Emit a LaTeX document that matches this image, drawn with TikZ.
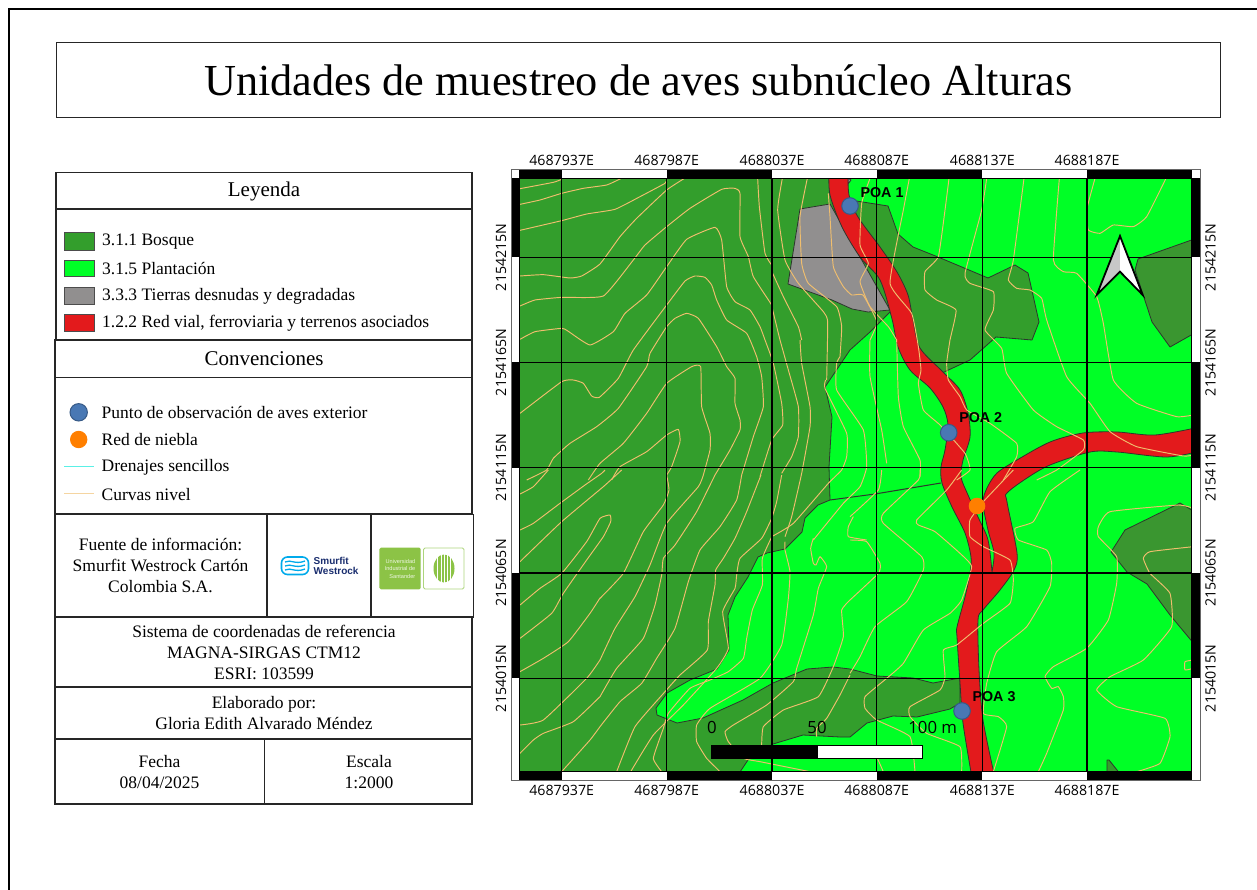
\documentclass[tikz,border=0pt]{standalone}
\usepackage{fontspec}
\setmainfont{Liberation Serif}
\newfontfamily\mapfont{Open Sans}
\newfontfamily\poafont{Liberation Sans}
\definecolor{forest}{RGB}{51,158,44}
\definecolor{forestb}{RGB}{58,150,48}
\definecolor{plant}{RGB}{0,255,38}
\definecolor{bare}{RGB}{145,143,143}
\definecolor{road}{RGB}{227,26,28}
\definecolor{curve}{RGB}{240,190,110}
\definecolor{drain}{RGB}{90,240,230}
\definecolor{poablue}{RGB}{73,120,180}
\definecolor{net}{RGB}{255,127,0}
\definecolor{edge}{RGB}{45,55,45}
\definecolor{smblue}{RGB}{0,170,235}
\definecolor{smnavy}{RGB}{25,45,110}
\definecolor{uisg}{RGB}{140,195,70}
\newcommand{\fs}[1]{\fontsize{#1}{20}\selectfont}
\tikzset{
  cell/.style={draw=black!85,line width=1.1pt},
  txt/.style={inner sep=0pt,align=center,font=\fs{17.5}},
  ltxt/.style={inner sep=0pt,anchor=west,font=\fs{17.5}},
  swatch/.style={draw=black!70,line width=0.9pt},
  land/.style={draw=edge,line width=0.8pt,line join=round},
  ctr/.style={draw=curve,line width=0.95pt,line join=round},
  gridl/.style={draw=black,line width=1.15pt},
  xlab/.style={inner sep=0pt,font=\mapfont\fs{14.2}},
  ylab/.style={inner sep=0pt,rotate=90,font=\mapfont\fs{14.2}},
  barlab/.style={inner sep=0pt,font=\mapfont\fs{16.8}},
  poa/.style={inner sep=0pt,font=\poafont\bfseries\fs{14.3}},
  pt/.style={draw=poablue!75!black,fill=poablue,line width=1pt},
  tileA/.style={shift={(490,150)},x=0.33333pt,y=-0.33333pt},
  tileB/.style={shift={(490,470)},x=0.33333pt,y=-0.33333pt},
  tileC/.style={shift={(850,150)},x=0.33333pt,y=-0.33333pt},
  tileD/.style={shift={(850,470)},x=0.33333pt,y=-0.33333pt},
  tileE/.style={shift={(600,475)},x=0.33333pt,y=-0.33333pt},
  tileF/.style={shift={(760,340)},x=0.33333pt,y=-0.33333pt},
}
\newcommand{\Z}[1]{\draw[ctr] plot[smooth,tension=0.25] coordinates {#1};}
\begin{document}
\begin{tikzpicture}[x=1pt,y=-1pt]
\useasboundingbox (0,0) rectangle (1257,890);
\fill[white] (0,0) rectangle (1257,890);
% sheet border
\draw[black,line width=1.8pt] (9,890) -- (9,9) -- (1257,9);
% title
\draw[cell,line width=0.8pt] (56,42) rectangle (1220,117);
\node[inner sep=0pt,font=\fs{44.3}] (title) at (638.5,80) {Unidades de muestreo de aves subnúcleo Alturas};
% table
\draw[cell] (56,172.7) rectangle (472,209);
\draw[cell] (56,209) rectangle (472,340);
\draw[cell] (55,340) rectangle (472,377.3);
\draw[cell] (55,377.3) rectangle (472,513.5);
\draw[cell] (55,514.5) rectangle (266.7,617);
\draw[cell] (267.5,514.5) rectangle (371,617);
\draw[cell] (371.5,514.5) rectangle (473.3,617);
\draw[cell] (55,617.5) rectangle (472,686.7);
\draw[cell] (55,687) rectangle (472,738.3);
\draw[cell] (55,739) rectangle (264.3,804);
\draw[cell] (264.8,739) rectangle (472,804);
\node[txt,font=\fs{21}] (ley) at (264,191) {Leyenda};
\node[txt,font=\fs{21}] (con) at (264,359) {Convenciones};
\draw[swatch,fill=forest] (64,232.3) rectangle (94,250);
\draw[swatch,fill=plant] (64,260) rectangle (94,276.7);
\draw[swatch,fill=bare] (64,287.3) rectangle (94,304);
\draw[swatch,fill=road] (64,314.7) rectangle (94,331.7);
\node[ltxt] (l1) at (102,241.5) {3.1.1 Bosque};
\node[ltxt] (l2) at (102,268.7) {3.1.5 Plantación};
\node[ltxt] (l3) at (102,296) {3.3.3 Tierras desnudas y degradadas};
\node[ltxt] (l4) at (102,323.3) {1.2.2 Red vial, ferroviaria y terrenos asociados};
\draw[pt] (78.7,412.3) circle (8.7);
\fill[net] (78.7,439.5) circle (8.7);
\draw[drain,line width=1pt] (64,466.3) -- (94,466.3);
\draw[curve!65!white,line width=1.4pt] (64,493.5) -- (94,493.5);
\node[ltxt] (c1) at (101.5,412.3) {Punto de observación de aves exterior};
\node[ltxt] (c2) at (101.5,439.5) {Red de niebla};
\node[ltxt] (c3) at (101.5,467) {Drenajes sencillos};
\node[ltxt] (c4) at (101.5,494.5) {Curvas nivel};
\node[txt] (src) at (160.5,565.5) {Fuente de información:\\[1pt]Smurfit Westrock Cartón\\[1pt]Colombia S.A.};
\node[txt] (crs) at (264,652) {Sistema de coordenadas de referencia\\[1pt]MAGNA-SIRGAS CTM12\\[1pt]ESRI: 103599};
\node[txt] (auth) at (264,713) {Elaborado por:\\[1pt]Gloria Edith Alvarado Méndez};
\node[txt] (fec) at (159.5,772.5) {Fecha\\[1pt]08/04/2025};
\node[txt] (esc) at (369,772.5) {Escala\\[1pt]1:2000};
% Smurfit logo
\draw[smblue,line width=1.6pt,rounded corners=6pt] (281.5,557) rectangle (308.5,574.5);
\begin{scope}[smblue,line width=1.3pt]
\draw (285,562) .. controls (291,559) and (295,565) .. (305,561);
\draw (285,566) .. controls (291,563) and (295,569) .. (305,565);
\draw (285,570) .. controls (291,567) and (295,573) .. (305,569);
\end{scope}
\node[inner sep=0pt,anchor=west,text=smnavy,font=\poafont\bfseries\fs{10}] (sm1) at (313.5,561.3) {Smurfit};
\node[inner sep=0pt,anchor=west,text=smnavy,font=\poafont\bfseries\fs{10}] (sm2) at (313.5,570.8) {Westrock};
% UIS logo
\fill[uisg,rounded corners=1.5pt] (379.3,547.7) rectangle (420.7,589.3);
\node[inner sep=0pt,text=white!85!uisg,align=right,font=\poafont\fontsize{5.6}{7.5}\selectfont] (ui1) at (400,568.5) {Universidad\\Industrial de\\Santander};
\draw[uisg!70!white,line width=0.9pt,rounded corners=1.5pt] (423.5,548) rectangle (464,589);
\fill[uisg] (444,568.5) ellipse (10.5 and 14);
\foreach \q in {437.7,441,444.2,447.4,450.5}{\draw[white,line width=1pt] (\q,553) -- (\q,584);}
% map
\begin{scope}
\clip (519.3,178.3) rectangle (1191.7,771.3);
\fill[plant] (519,178) rectangle (1192,772);
% main forest
\filldraw[fill=forest,land] (510,170) -- (840,170) -- (850,200) -- (888,206) -- (898,234) -- (913,247) -- (938,257) -- (988,278) -- (1015,265) -- (1028,273) -- (1039,322) -- (1032,340) -- (996,337) -- (970,360) -- (942,373) -- (900,330) -- (890,312) -- (870,332) -- (850,350) -- (825,387) -- (832,417) -- (829,467) -- (830,500) -- (818,505) -- (805,518) -- (802,532) -- (785,549) -- (767,553) -- (758,557) -- (748,577) -- (735,597) -- (728,615) -- (729,650) -- (717,669) -- (690,680) -- (667,693) -- (656,708) -- (657,715) -- (677,723) -- (703,718) -- (743,700) -- (773,683) -- (807,669) -- (833,667) -- (850,669) -- (877,676) -- (913,678) -- (933,683) -- (960,678) -- (960,703) -- (950,709) -- (917,717) -- (893,716) -- (867,723) -- (850,737) -- (840,737) -- (803,735) -- (773,744) -- (750,757) -- (738,775) -- (510,775) -- cycle;
\filldraw[fill=forestb,land] (1200,237) -- (1138,259) -- (1135,270) -- (1152,322) -- (1170,347) -- (1200,330) -- cycle;
\filldraw[fill=forestb,land] (1180,503) -- (1125,530) -- (1111,552) -- (1127,572) -- (1147,584) -- (1170,615) -- (1195,645) -- (1195,512) -- cycle;
\filldraw[fill=forest,land] (1107,760) -- (1109,760) -- (1121,775) -- (1107,775) -- cycle;
% bare soil
\filldraw[fill=bare,land] (800,209) -- (830,204) -- (860,257) -- (890,310) -- (868,312) -- (852,309) -- (832,300) -- (788,284) -- cycle;
\filldraw[fill=bare,land] (848,178) -- (851,180) -- (848,184) -- cycle;
% thin boundary line
\draw[land,line width=1pt] (830,500) -- (875,494) -- (941,483);
% road
\filldraw[fill=road,land] plot[smooth,tension=0.5] coordinates {(829,170) (830,195) (842,227) (860,257) (880,280) (892,319) (898,347) (910,370) (930,388) (943,407) (948,425) (945,450) (941,467) (942,483) (952,507) (965,533) (971,557) (970,573) (965,597) (957,627) (957,637) (960,683) (963,723) (972,778)}
 -- plot[smooth,tension=0.5] coordinates {(995,778) (983,720) (979,670) (978,620) (983,610) (1000,590) (1014,570) (1017,553) (1007,502) (1007,493) (1027,478) (1050,465) (1090,452) (1117,452) (1167,457) (1200,451)}
 -- plot[smooth,tension=0.5] coordinates {(1200,427) (1155,435) (1117,432) (1083,433) (1050,442) (1017,460) (997,473) (987,488) (983,503) (988,530) (994,553) (992,572)}
 -- plot[smooth,tension=0.5] coordinates {(992,572) (988,540) (978,517) (968,495) (961,477) (963,460) (970,437) (968,413) (960,390) (943,372) (920,348) (913,320) (908,295) (897,272) (880,247) (858,217) (849,195) (848,170)} -- cycle;
% contours, upper left tile
\begin{scope}[tileA]
\Z{(90,116)(190,97)(215,88)}
\Z{(90,163)(150,150)(215,130)(280,115)(350,105)(392,86)}
\Z{(90,241)(215,212)(290,192)(375,178)(450,140)(525,100)(530,88)}
\Z{(90,378)(160,374)(240,384)(275,378)(330,342)(390,260)(440,205)(530,120)(582,86)}
\Z{(90,468)(135,450)(215,442)(340,438)(430,330)(465,285)(530,230)(600,175)(695,118)(735,115)(750,130)(750,260)(775,320)(790,380)(845,465)(848,480)(870,570)}
\Z{(90,568)(135,545)(215,535)(232,542)(300,585)(370,545)(405,490)(470,435)(530,350)(590,268)(675,232)(695,270)(710,410)(735,455)(780,480)(810,530)(825,570)}
\Z{(90,790)(215,695)(250,690)(280,700)(305,738)(328,742)(385,685)(430,600)(530,465)(585,393)(615,378)(645,382)(665,405)(680,450)(710,510)(770,550)(800,620)(815,680)(820,770)(790,860)(755,975)}
\Z{(110,990)(170,960)(190,925)(240,880)(320,830)(385,775)(470,650)(480,610)(530,530)(555,505)(590,490)(625,505)(680,590)(710,650)(735,685)(735,760)(750,810)(750,840)(720,900)(675,975)}
\Z{(295,990)(330,940)(400,880)(470,790)(530,700)(605,650)(632,650)(635,770)(660,850)(660,900)(640,975)}
\Z{(365,990)(390,950)(470,905)(530,855)(565,838)(570,875)(545,950)(530,975)}
\Z{(803,85)(808,170)(825,310)(845,345)}
\Z{(877,85)(863,180)(885,330)(925,400)(1000,485)(1013,515)(1010,690)}
\Z{(952,85)(930,200)(935,340)(955,400)(1040,470)(1055,530)(1050,620)}
\Z{(848,370)(880,440)(925,530)(935,570)}
\Z{(1015,130)(1020,200)(1030,350)(1060,410)(1085,435)(1119,435)(1161,516)(1140,570)}
\end{scope}
% contours, lower left tile
\begin{scope}[tileB]
\Z{(90,72)(130,50)(175,0)}
\Z{(90,180)(130,160)(210,100)(285,45)(335,10)(345,0)}
\Z{(90,275)(215,155)(340,50)(395,0)}
\Z{(90,505)(185,430)(220,370)(290,270)(340,200)(362,155)(360,135)(330,145)(290,215)(215,310)(150,355)(90,405)}
\Z{(90,605)(160,565)(235,515)(300,430)(330,384)}
\Z{(90,765)(160,750)(290,625)(330,570)}
\Z{(90,850)(130,810)(160,790)(250,755)(330,680)}
\Z{(215,905)(300,810)(330,770)}
\Z{(815,825)(820,770)(880,720)(985,680)(1030,590)(1060,500)(1055,420)(1080,390)}
\end{scope}
% contours, middle lower tile
\begin{scope}[tileE]
\Z{(200,0)(207,45)(190,90)(130,170)(70,295)(0,370)}
\Z{(310,0)(295,35)(200,145)(150,270)(105,365)(45,460)(0,555)}
\Z{(345,0)(290,110)(225,210)(190,250)(185,300)(165,390)(130,490)(50,580)(0,665)}
\Z{(425,0)(410,75)(360,155)(300,225)(265,320)(225,460)(170,550)(125,625)(60,680)(0,755)}
\Z{(483,0)(440,110)(405,190)(370,250)(347,285)(345,330)(325,440)(322,525)(240,600)(195,650)(105,755)(50,890)}
\Z{(545,0)(530,80)(515,130)(485,190)(420,250)(410,300)(405,340)(368,410)(385,520)(350,580)(250,690)(160,780)(92,890)}
\Z{(185,890)(160,850)(190,760)(205,715)(270,640)(330,615)(385,590)(430,550)(440,490)(457,405)(487,330)(487,250)(515,186)}
\Z{(360,890)(320,850)(290,800)(290,750)(330,700)(480,610)(545,510)(565,370)(570,290)(555,225)(555,200)}
\Z{(630,890)(480,860)(430,850)(385,800)(375,770)(400,750)(500,690)(580,620)(590,580)(640,420)(655,340)(680,275)(660,245)(648,270)(640,265)(632,220)(640,190)}
\Z{(650,785)(650,760)(680,730)(720,660)(750,600)}
\end{scope}
% contours, centre tile
\begin{scope}[tileF]
\Z{(60,0)(85,90)(115,200)(115,290)(95,350)(65,400)}
\Z{(120,0)(125,70)(150,200)(150,260)(125,400)(95,530)(75,590)}
\Z{(15,0)(40,70)(65,190)(68,255)(35,300)(0,410)}
\Z{(197,120)(195,145)(260,280)(260,350)(245,390)(205,430)(100,550)(35,590)}
\Z{(240,50)(230,70)(230,150)(310,270)(320,380)(300,440)(250,490)(160,600)}
\Z{(330,0)(330,110)(365,270)(380,370)}
\Z{(410,0)(415,170)(430,260)(480,360)(480,410)}
\Z{(280,530)(265,560)(265,590)(320,600)}
\end{scope}
% contours, upper right tile
\begin{scope}[tileC]
\Z{(60,85)(35,160)(30,285)(55,340)(30,395)(60,470)(115,530)(140,570)}
\Z{(178,85)(160,180)(120,400)(185,490)(205,590)(213,660)(205,700)(220,780)(270,825)(345,910)(360,960)(320,990)}
\Z{(297,85)(285,180)(265,320)(225,365)(225,420)(260,450)(318,480)(300,570)(290,640)(295,690)(330,740)(350,780)(420,820)(500,880)(500,920)(460,990)}
\Z{(410,85)(395,180)(345,370)(360,400)(430,425)(430,480)(405,540)(455,595)(470,670)(550,780)(620,830)(700,870)(700,900)(620,960)(560,990)}
\Z{(522,85)(490,330)(475,390)(500,415)(540,420)(575,445)(590,510)(650,680)(720,760)(780,845)(860,890)(1000,918)(1030,915)}
\Z{(628,85)(610,330)(640,365)(680,370)(740,440)(760,520)(790,690)(860,760)(980,800)(1030,795)}
\Z{(735,85)(710,180)(715,240)(750,250)(790,225)(850,230)(890,200)(948,85)}
\end{scope}
% contours, lower right tile
\begin{scope}[tileD]
\Z{(690,0)(600,65)(550,155)(495,175)(505,210)(590,240)(605,280)(600,350)(530,470)(440,545)(410,640)(400,730)(445,740)(470,770)(430,905)}
\Z{(1030,230)(900,245)(880,265)(900,310)(960,370)(965,470)(880,570)(780,620)(740,660)(800,710)(945,745)(960,800)(930,880)(860,905)}
\Z{(1030,115)(985,105)(780,125)(745,170)(745,200)(800,260)(800,340)(775,450)(710,535)(610,590)(585,620)(605,655)(625,650)(640,680)(640,720)(590,850)(565,905)}
\Z{(490,0)(400,95)(360,150)(360,200)(400,230)(480,270)(490,330)(480,400)(400,460)(320,525)(280,540)(285,620)(270,660)(180,710)(180,740)(230,790)(330,830)(335,905)}
\Z{(335,0)(290,60)(200,150)(205,165)(255,185)(330,250)(365,290)(335,390)(300,430)(220,480)(160,580)(110,625)(45,680)(45,715)(80,750)(180,800)(195,905)}
\Z{(210,0)(205,30)(100,130)(100,160)(215,260)(220,300)(170,395)(75,470)(30,560)(0,610)}
\Z{(95,0)(85,60)(0,140)}
\Z{(0,210)(50,215)(90,280)(85,310)(0,390)}
\Z{(80,860)(100,905)}
\Z{(1030,570)(1005,575)(1005,600)(1030,595)}
\end{scope}
% grid
\foreach \q in {561.7,666.7,772,876.7,982.3,1087}{\draw[gridl] (\q,178) -- (\q,772);}
\foreach \q in {257.3,362.3,467.7,573,678.3}{\draw[gridl] (519,\q) -- (1192,\q);}
\end{scope}
% frame
\fill[white] (511,169.3) rectangle (1200,178.3);
\fill[white] (511,771.3) rectangle (1200,780);
\fill[white] (511,178.3) rectangle (519.3,771.3);
\fill[white] (1191.7,178.3) rectangle (1200,771.3);
\foreach \a/\b in {519.3/561.7,666.7/772,876.7/982.3,1087/1191.7}{
  \fill[black] (\a,169.3) rectangle (\b,178.3);
  \fill[black] (\a,771.3) rectangle (\b,780);
}
\foreach \a/\b in {178.3/257.3,362.3/467.7,573/678.3}{
  \fill[black] (511,\a) rectangle (519.3,\b);
  \fill[black] (1191.7,\a) rectangle (1200,\b);
}
\draw[black!60,line width=0.9pt] (511,169.3) rectangle (1200,780);
\draw[black,line width=1pt] (519.3,178.3) rectangle (1191.7,771.3);
% labels
\foreach \q/\t/\n in {561.7/4687937E/a,666.7/4687987E/b,772/4688037E/c,876.7/4688087E/d,982.3/4688137E/e,1087/4688187E/f}{
  \node[xlab] (xt\n) at (\q,160) {\t};
  \node[xlab] (xb\n) at (\q,790.5) {\t};
}
\foreach \q/\t/\n in {257.3/2154215N/a,362.3/2154165N/b,467.7/2154115N/c,573/2154065N/d,678.3/2154015N/e}{
  \node[ylab] (yl\n) at (501,\q) {\t};
  \node[ylab] (yr\n) at (1210.5,\q) {\t};
}
% scale bar
\draw[black,line width=0.7pt,fill=white] (711.7,745.7) rectangle (922.3,758.7);
\fill[black] (711.7,745.7) rectangle (817.7,758.7);
\node[barlab] (b0) at (712,727) {0};
\node[barlab] (b50) at (817,727) {50};
\node[barlab] (b100) at (932.7,727) {100 m};
% north arrow
\fill[black!22] (1120,236) -- (1096.7,295) -- (1120,271.7) -- cycle;
\fill[white] (1120,236) -- (1142.7,295) -- (1120,271.7) -- cycle;
\draw[black,line width=1.8pt,line join=miter] (1120,236) -- (1096.7,295) -- (1120,271.7) -- (1142.7,295) -- cycle;
% points
\draw[pt] (850,206) circle (8.3);
\draw[pt] (948.7,432.7) circle (8.3);
\draw[pt] (962,711) circle (8.3);
\fill[net] (977,506) circle (8.3);
\node[poa] (p1) at (882,193) {POA 1};
\node[poa] (p2) at (980.7,418) {POA 2};
\node[poa] (p3) at (994,697) {POA 3};
\end{tikzpicture}
\end{document}
